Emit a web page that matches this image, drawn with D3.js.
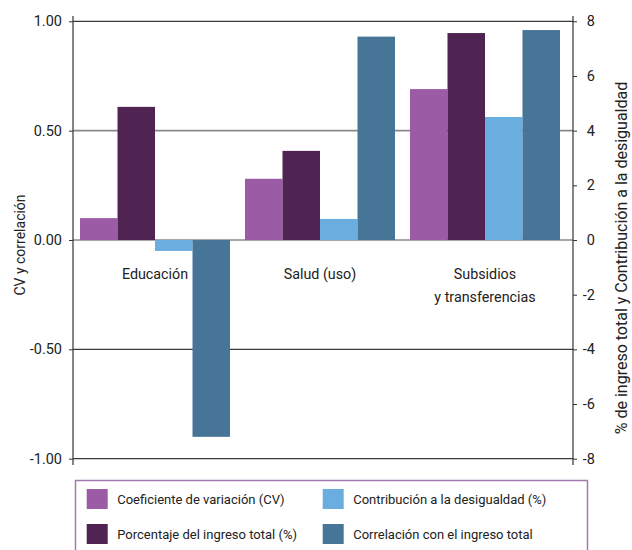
<!DOCTYPE html>
<html><head><meta charset="utf-8">
<script src="https://cdn.jsdelivr.net/npm/d3@7"></script>
<style>
  body { margin: 0; background: #fff; }
  text { font-family: Roboto, "Liberation Sans", Arial, sans-serif; fill: #222; }
</style>
</head><body>
<svg id="chart" width="632" height="550"></svg>
<script>
// Categories and series values
const categories = ["Educación", "Salud (uso)", "Subsidios\ny transferencias"];
const cv = [0.10, 0.28, 0.69];             // Coeficiente de variación (eje izquierdo)
const pctIngreso = [4.87, 3.26, 7.57];     // Porcentaje del ingreso total (eje derecho)
const contribucion = [-0.40, 0.77, 4.50];  // Contribución a la desigualdad (eje derecho)
const correlacion = [-0.90, 0.93, 0.96];   // Correlación con el ingreso total (eje izquierdo)

const leftTicks = [1.0, 0.5, 0.0, -0.5, -1.0];
const rightTicks = [8, 6, 4, 2, 0, -2, -4, -6, -8];

const seriesNames = [
  "Coeficiente de variación (CV)",
  "Porcentaje del ingreso total (%)",
  "Contribución a la desigualdad (%)",
  "Correlación con el ingreso total"
];
const seriesColors = ["#9b5ba5", "#4f2352", "#6aaddf", "#477598"];
const seriesAxis = ["left", "right", "right", "left"];
const seriesValues = [cv, pctIngreso, contribucion, correlacion];

const svg = d3.select("#chart");
const FONT = "Roboto, 'Liberation Sans', Arial, sans-serif";

const plotTop = 21.3, plotBottom = 458.7, plotLeft = 73, plotRight = 573;

const yL = d3.scaleLinear().domain([-1, 1]).range([plotBottom, plotTop]);
const yR = d3.scaleLinear().domain([-8, 8]).range([plotBottom, plotTop]);

const x0 = d3.scaleBand().domain(categories)
  .range([72.5, 567.5]).paddingInner(0.0909).paddingOuter(0.0455);
const x1 = d3.scaleBand().domain(seriesNames).range([0, x0.bandwidth()]);

// Horizontal gridlines
const isLight = v => v === 0.5 || v === 0;
svg.append("g").selectAll("line").data(leftTicks).join("line")
  .attr("x1", plotLeft).attr("x2", plotRight)
  .attr("y1", d => yL(d)).attr("y2", d => yL(d))
  .attr("stroke", d => isLight(d) ? "#8a8a8a" : "#3a3a3a")
  .attr("stroke-width", d => isLight(d) ? 1.6 : 1.2);

// Bars
const rows = [];
categories.forEach((c, i) => {
  seriesNames.forEach((s, j) => {
    rows.push({ cat: c, series: s, value: seriesValues[j][i],
      scale: seriesAxis[j] === "left" ? yL : yR, color: seriesColors[j] });
  });
});
svg.append("g").selectAll("rect").data(rows).join("rect")
  .attr("x", d => x0(d.cat) + x1(d.series))
  .attr("width", x1.bandwidth())
  .attr("y", d => Math.min(d.scale(d.value), d.scale(0)))
  .attr("height", d => Math.abs(d.scale(d.value) - d.scale(0)))
  .attr("fill", d => d.color);

const hyphenate = s => s.replace("\u2212", "-");

// Left axis
const axL = svg.append("g").attr("transform", `translate(${plotLeft},0)`)
  .call(d3.axisLeft(yL).tickValues(leftTicks).tickFormat(d => hyphenate(d3.format(".2f")(d)))
    .tickSize(4).tickSizeOuter(0).tickPadding(7));
axL.select(".domain").remove();
axL.selectAll("line").attr("stroke", "#333");
axL.selectAll("text").attr("font-size", 14.5).style("fill", "#222")
  .attr("font-family", FONT);

// Right axis (labels right-aligned)
const axR = svg.append("g").attr("transform", `translate(${plotRight},0)`)
  .call(d3.axisRight(yR).tickValues(rightTicks).tickFormat(d => String(d))
    .tickSize(4).tickSizeOuter(0));
axR.select(".domain").remove();
axR.selectAll("line").attr("stroke", "#333");
axR.selectAll("text").attr("font-size", 14.5).style("fill", "#222")
  .attr("text-anchor", "end").attr("x", 22)
  .attr("font-family", FONT);

// Vertical axis lines
[plotLeft, plotRight].forEach(x => {
  svg.append("line").attr("x1", x).attr("x2", x).attr("y1", 16).attr("y2", 465)
    .attr("stroke", "#333").attr("stroke-width", 1.2);
});

// Category labels
const catG = svg.append("g");
categories.forEach(c => {
  const lines = c.split("\n");
  const t = catG.append("text")
    .attr("x", x0(c) + x0.bandwidth() / 2).attr("y", 279)
    .attr("text-anchor", "middle").attr("font-size", 14.3);
  lines.forEach((ln, k) => {
    t.append("tspan").attr("x", x0(c) + x0.bandwidth() / 2)
      .attr("dy", k === 0 ? 0 : 23).text(ln);
  });
});

// Axis titles
svg.append("text").attr("transform", "translate(25,245) rotate(-90)")
  .attr("text-anchor", "middle").attr("font-size", 14).text("CV y correlación");
svg.append("text").attr("transform", "translate(627,258) rotate(-90)")
  .attr("text-anchor", "middle").attr("font-size", 16)
  .text("% de ingreso total y Contribución a la desigualdad");

// Legend
const lg = svg.append("g");
lg.append("rect").attr("x", 75.5).attr("y", 480.5).attr("width", 512).attr("height", 80)
  .attr("fill", "none").attr("stroke", "#a27aaf").attr("stroke-width", 1.5);
const legendPos = [[86.7, 489], [86.7, 524], [322.7, 489], [322.7, 524]];
seriesNames.forEach((s, j) => {
  const [lx, ly] = legendPos[j];
  lg.append("rect").attr("x", lx).attr("y", ly).attr("width", 21).attr("height", 20)
    .attr("fill", seriesColors[j]);
  lg.append("text").attr("x", lx + 30.5).attr("y", ly + 15)
    .attr("font-size", 13).text(s);
});
</script>
</body></html>
